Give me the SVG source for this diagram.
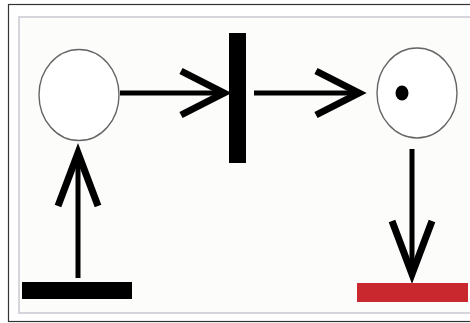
<svg xmlns="http://www.w3.org/2000/svg" width="470" height="323" viewBox="0 0 470 323">
<style>
.place{fill:#fff;stroke:#666;stroke-width:1.4}
.line{stroke:#000;stroke-width:5;fill:none}
.head{stroke:#000;stroke-width:7;fill:none;stroke-linejoin:miter;stroke-miterlimit:10}
</style>
<rect x="0" y="0" width="470" height="323" fill="#fff"/>
<rect x="8.5" y="4.5" width="470" height="317" fill="#fff" stroke="#333" stroke-width="1.2"/>
<rect x="19" y="17" width="460" height="296" fill="#fcfcfa" stroke="#d4d6dc" stroke-width="2"/>
<g id="connectors">
<line class="line" x1="120" y1="93" x2="224" y2="93"/>
<polyline class="head" points="181,71 224,93 181,115"/>
<line class="line" x1="254" y1="93" x2="358" y2="93"/>
<polyline class="head" points="316,71 359,93 316,115"/>
<line class="line" x1="412" y1="149" x2="412" y2="272"/>
<polyline class="head" points="392,221 412,274 432,221"/>
<line class="line" x1="78" y1="278" x2="78" y2="155"/>
<polyline class="head" points="58,206 78,153 98,206"/>
</g>
<g id="p1"><ellipse class="place" cx="79" cy="95" rx="40" ry="45.5"/></g>
<g id="t1"><rect x="229" y="33" width="17" height="130" fill="#000"/></g>
<g id="p2"><ellipse class="place" cx="417" cy="93" rx="40" ry="45"/><ellipse cx="402" cy="93" rx="6.5" ry="7.5" fill="#000"/></g>
<g id="source"><rect x="22" y="282" width="110" height="17" fill="#000"/></g>
<g id="sink"><rect x="357" y="283" width="111" height="19" fill="#c8282e"/></g>
</svg>
